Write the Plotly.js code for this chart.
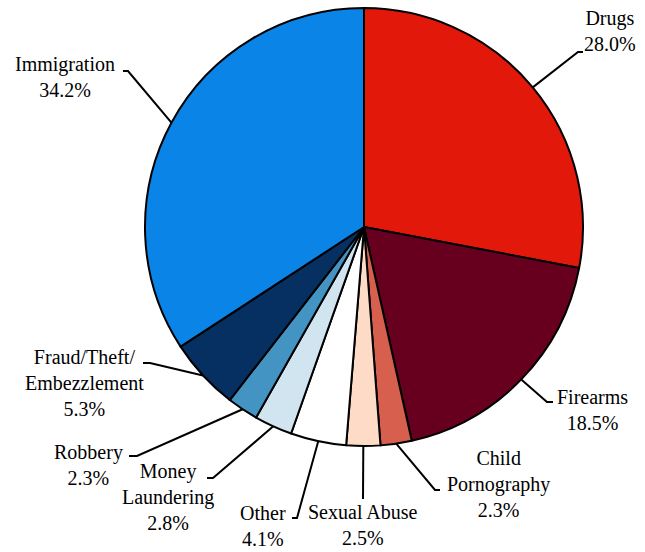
<!DOCTYPE html>
<html>
<head>
<meta charset="utf-8">
<script src="https://cdn.plot.ly/plotly-3.0.1.min.js"></script>
<style>
html,body{margin:0;padding:0;background:#fff;}
#chart{width:645px;height:552px;}
</style>
</head>
<body>
<div id="chart"></div>
<script>
// Data
var categories = ["Drugs", "Firearms", "Child<br>Pornography", "Sexual Abuse", "Other", "Money<br>Laundering", "Robbery", "Fraud/Theft/<br>Embezzlement", "Immigration"];
var values = [28.0, 18.5, 2.3, 2.5, 4.1, 2.8, 2.3, 5.3, 34.2];

// Styles
var colors = ["#E1180A", "#67001F", "#D6604D", "#FDDBC7", "#FFFFFF", "#D1E5F0", "#4393C3", "#053061", "#0A84E6"];
var FONT = 'Liberation Serif, Times New Roman, serif';

// Layout geometry (pixels)
var W = 645, H = 552;
var cx = 364, cy = 227, R = 219;
// label block centres
var labelX = [610, 592, 498, 363, 263, 168, 88, 84, 65];
var labelY = [31.5, 409.5, 484, 525, 526, 497, 464.5, 382.5, 77];
// leader elbows and ends
var elbowX = [578, 547, 435, 363, 297, 213, 137, 150, 128];
var elbowY = [52, 402, 490, 499, 518, 478, 456, 363, 71];
var endX = [583, 553, 440, 363, 292, 207, 129, 143, 123];
var endY = [52, 402, 490, 499, 518, 478, 456, 363, 71];

function px(x){ return x / W; }
function py(y){ return 1 - y / H; }

var total = values.reduce(function(a,b){return a+b;}, 0);
var annotations = [], shapes = [];
var cum = 0;
for (var i = 0; i < values.length; i++) {
  var mid = (cum + values[i] / 2) / total * 2 * Math.PI;
  cum += values[i];
  var ex = cx + R * Math.sin(mid), ey = cy - R * Math.cos(mid);
  annotations.push({
    x: px(labelX[i]), y: py(labelY[i]), xref: 'paper', yref: 'paper',
    xanchor: 'center', yanchor: 'middle', showarrow: false, align: 'center',
    text: categories[i] + '<br>' + values[i].toFixed(1) + '%',
    font: {family: FONT, size: 20, color: '#000'}
  });
  shapes.push({
    type: 'path', xref: 'paper', yref: 'paper',
    path: 'M ' + px(ex) + ',' + py(ey) + ' L ' + px(elbowX[i]) + ',' + py(elbowY[i]) + ' L ' + px(endX[i]) + ',' + py(endY[i]),
    line: {color: '#000', width: 2}
  });
}

var trace = {
  type: 'pie',
  labels: categories,
  values: values,
  sort: false,
  direction: 'clockwise',
  rotation: 0,
  textinfo: 'none',
  hoverinfo: 'label+percent',
  marker: {colors: colors, line: {color: '#000', width: 2}},
  domain: {x: [(cx - R) / W, (cx + R) / W], y: [1 - (cy + R) / H, 1 - (cy - R) / H]},
  showlegend: false
};

var layout = {
  width: W, height: H,
  margin: {l: 0, r: 0, t: 0, b: 0},
  paper_bgcolor: '#fff',
  font: {family: FONT},
  showlegend: false,
  annotations: annotations,
  shapes: shapes
};

Plotly.newPlot('chart', [trace], layout, {displayModeBar: false, staticPlot: true});
</script>
</body>
</html>
